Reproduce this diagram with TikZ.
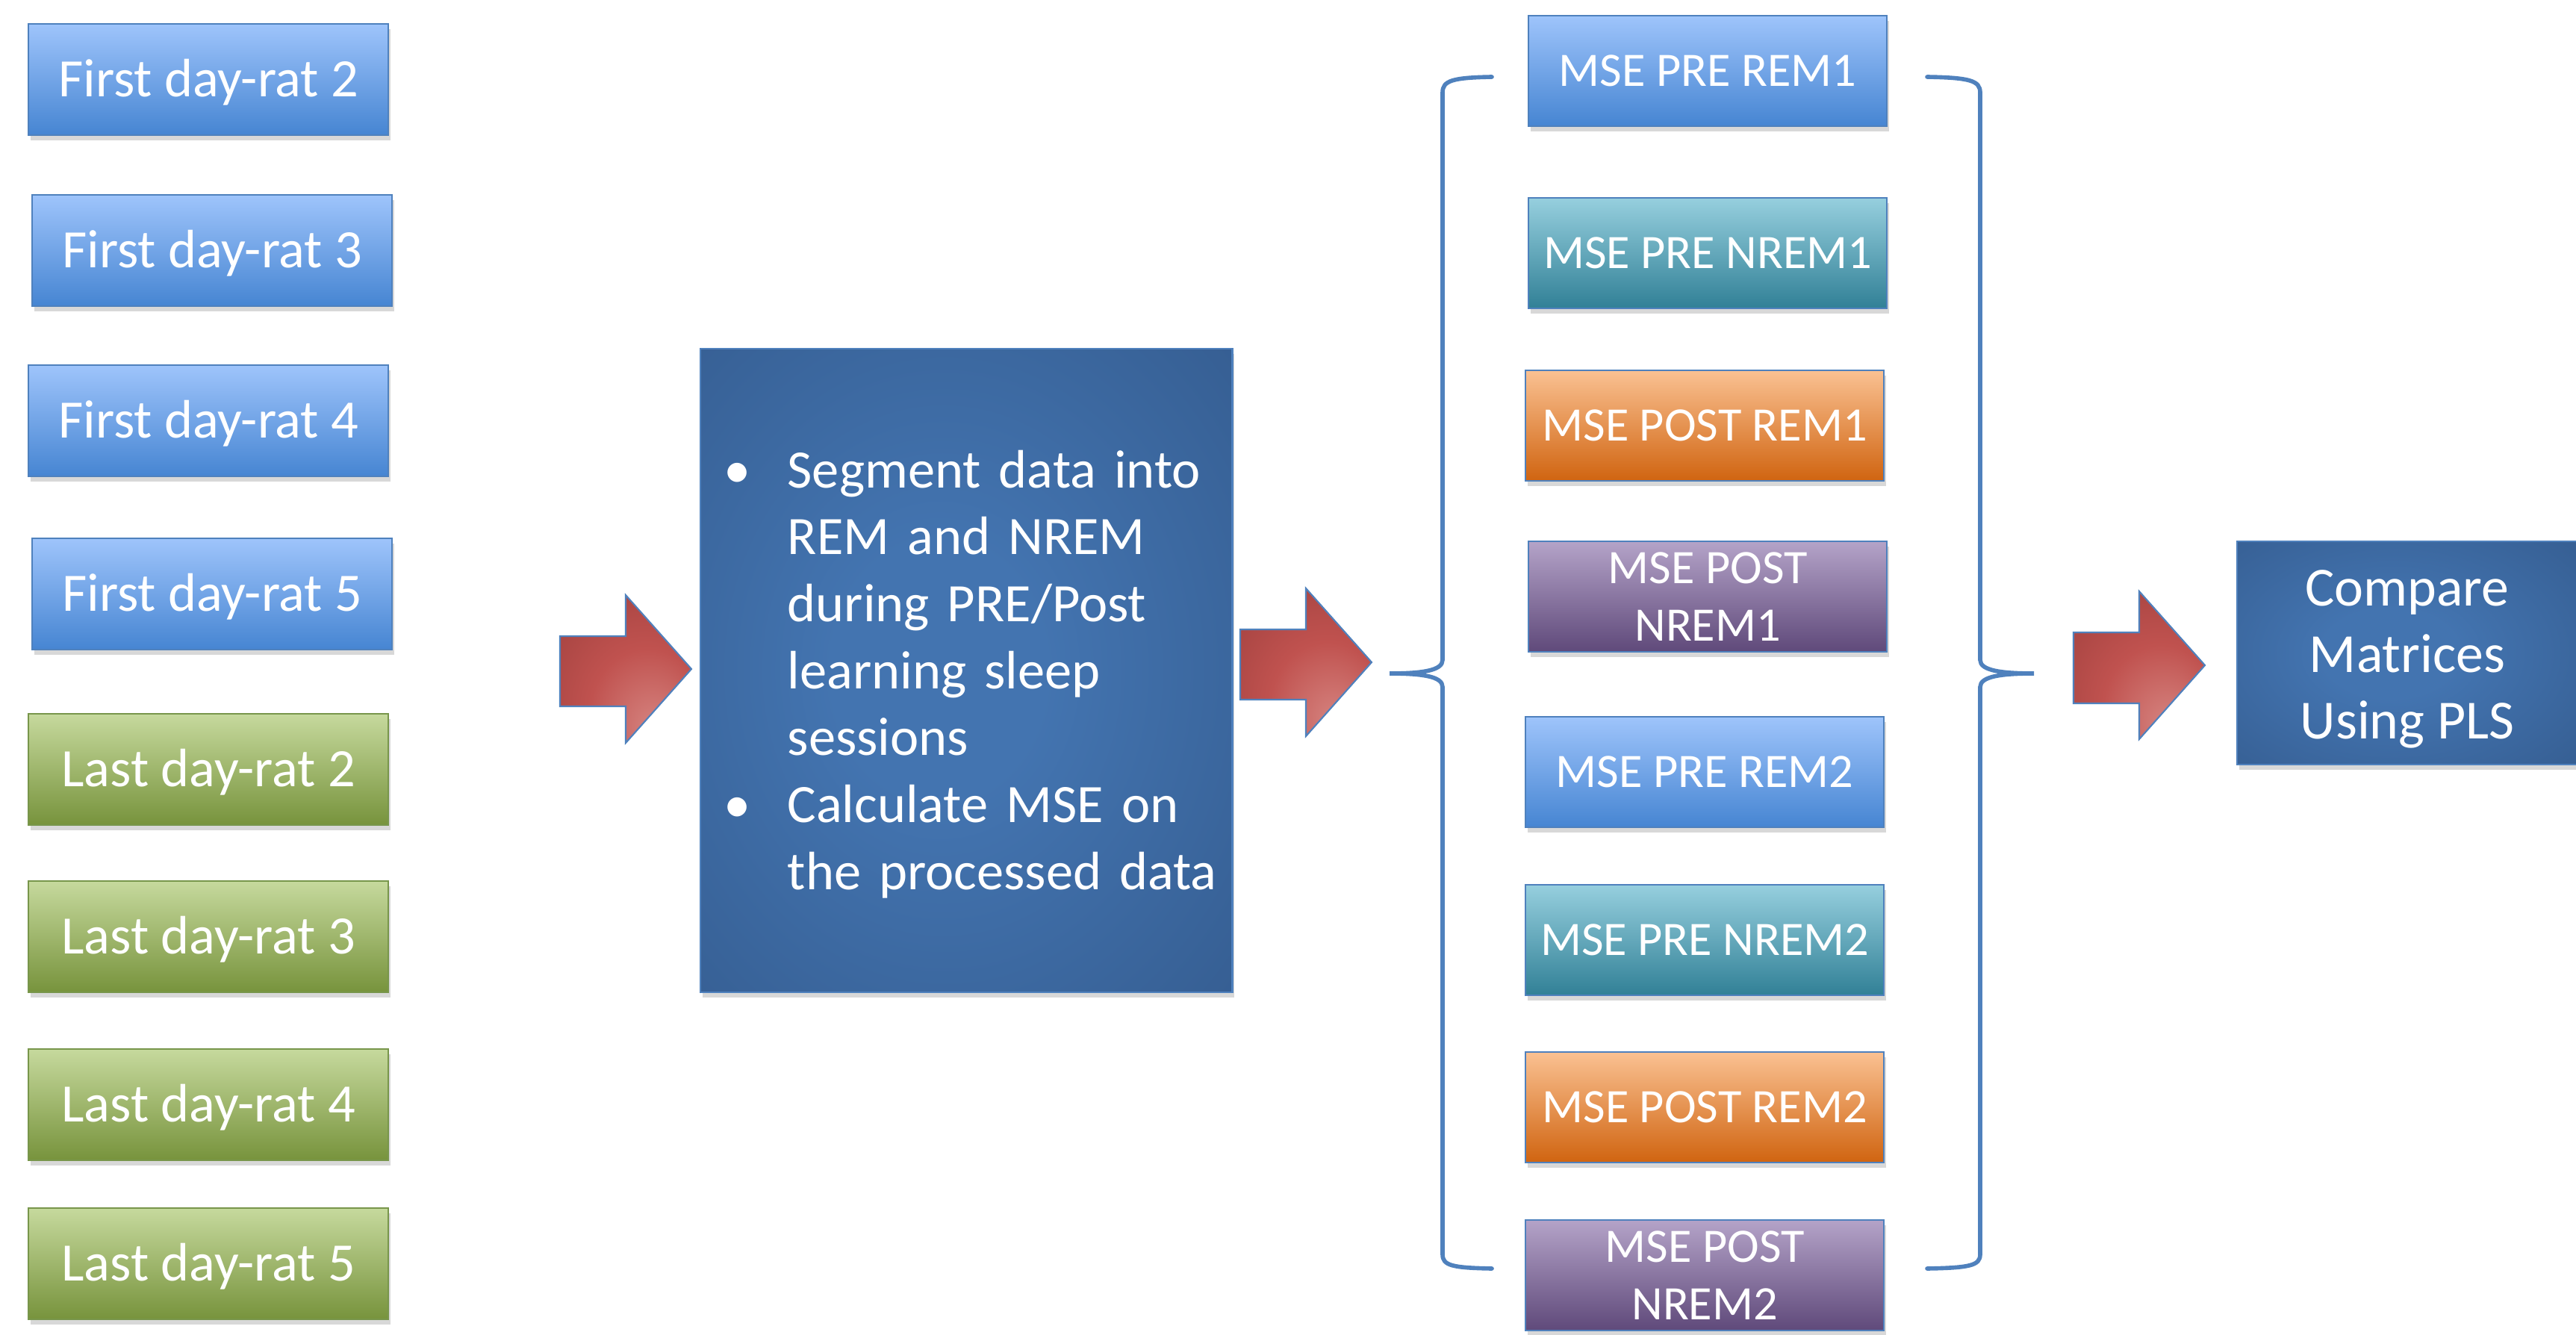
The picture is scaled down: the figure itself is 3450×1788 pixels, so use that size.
\documentclass[tikz,border=0pt]{standalone}
\usepackage{fontspec}
\setmainfont{Carlito}
\usetikzlibrary{shadings,shadows}
\definecolor{bluetop}{RGB}{158,196,251}
\definecolor{bluebot}{RGB}{70,133,210}
\definecolor{blueedge}{RGB}{79,129,189}
\definecolor{greentop}{RGB}{198,217,157}
\definecolor{greenbot}{RGB}{119,147,60}
\definecolor{greenedge}{RGB}{120,150,75}
\definecolor{tealtop}{RGB}{150,207,222}
\definecolor{tealbot}{RGB}{49,128,150}
\definecolor{orangetop}{RGB}{250,193,146}
\definecolor{orangebot}{RGB}{208,100,16}
\definecolor{purpletop}{RGB}{180,163,200}
\definecolor{purplebot}{RGB}{95,73,122}
\definecolor{cboxin}{RGB}{67,116,176}
\definecolor{cboxout}{RGB}{50,88,138}
\definecolor{arrowlight}{RGB}{215,135,131}
\definecolor{arrowmid}{RGB}{192,82,79}
\definecolor{arrowdark}{RGB}{152,60,58}
\definecolor{bracecol}{RGB}{79,129,189}
\pgfdeclareradialshading{arrowshade}{\pgfpoint{12bp}{-22bp}}{color(0bp)=(arrowlight); color(22bp)=(arrowmid); color(50bp)=(arrowdark); color(70bp)=(arrowdark)}
\pgfdeclareradialshading{cboxshade}{\pgfpoint{-3bp}{0bp}}{color(0bp)=(cboxin); color(10bp)=(cboxin); color(45bp)=(cboxout); color(75bp)=(cboxout)}
\tikzset{
  common/.style={rectangle, anchor=north west, inner sep=0pt, text=white, line width=0.6pt,
    drop shadow={shadow xshift=0.8pt, shadow yshift=-2pt, opacity=0.3}},
  leftsize/.style={minimum width=4.82cm, minimum height=1.49cm, text depth=0.05cm, font=\fontsize{20.6}{24.7}\selectfont},
  rightsize/.style={minimum width=4.80cm, minimum height=1.48cm, align=center, font=\fontsize{18.3}{21.9}\selectfont},
  bluebox/.style={common, top color=bluetop, bottom color=bluebot, draw=blueedge},
  greenbox/.style={common, top color=greentop, bottom color=greenbot, draw=greenedge},
  tealbox/.style={common, top color=tealtop, bottom color=tealbot, draw=blueedge},
  orangebox/.style={common, top color=orangetop, bottom color=orangebot, draw=blueedge},
  purplebox/.style={common, top color=purpletop, bottom color=purplebot, draw=blueedge},
  darkbox/.style={common, shading=cboxshade, draw=blueedge},
  boxtext/.style={inner sep=0pt, text=white},
  redarrow/.style={shading=arrowshade, draw=blueedge, line width=0.6pt, line join=miter},
  brace/.style={draw=bracecol, line width=1.6pt, line cap=round}
}
\begin{document}
\begin{tikzpicture}[x=0.01cm, y=-0.01cm]
\useasboundingbox (0,0) rectangle (3450,1788);
\fill[white] (0,0) rectangle (3450,1788);
% left column
\node[bluebox, leftsize] (f2) at (37,31) {First day-rat 2};
\node[bluebox, leftsize] (f3) at (42,260) {First day-rat 3};
\node[bluebox, leftsize] (f4) at (37,488) {First day-rat 4};
\node[bluebox, leftsize] (f5) at (42,720) {First day-rat 5};
\node[greenbox, leftsize] (l2) at (37,955) {Last day-rat 2};
\node[greenbox, leftsize] (l3) at (37,1179) {Last day-rat 3};
\node[greenbox, leftsize] (l4) at (37,1404) {Last day-rat 4};
\node[greenbox, leftsize] (l5) at (37,1617) {Last day-rat 5};
% arrow 1
\path[redarrow] (750,852) -- (838,852) -- (838,797) -- (926,896) -- (838,995) -- (838,946) -- (750,946) -- cycle;
% center box
\node[darkbox, minimum width=7.12cm, minimum height=8.61cm] (proc) at (937,466) {};
\node[boxtext, anchor=west, text width=6.75cm, align=left,
  font=\fontsize{20.6}{25.5}\selectfont] (proctext) at (969,903)
  {\makebox[0.85cm][l]{\textbullet}Segment data into\\
   \hspace*{0.85cm}REM and NREM\\
   \hspace*{0.85cm}during PRE/Post\\
   \hspace*{0.85cm}learning sleep\\
   \hspace*{0.85cm}sessions\\
   \makebox[0.85cm][l]{\textbullet}Calculate MSE on\\
   \hspace*{0.85cm}the processed data};
% arrow 2
\path[redarrow] (1661,843) -- (1749,843) -- (1749,788) -- (1837,887) -- (1749,986) -- (1749,937) -- (1661,937) -- cycle;
% left brace
\coordinate (lbtop) at (1998,103);
\coordinate (lbbot) at (1998,1699);
\coordinate (lbtip) at (1861,902);
\draw[brace] (lbtop) .. controls (1945,104) and (1932,108) .. (1932,124)
  -- (1932,884) .. controls (1932,898) and (1905,902) .. (lbtip)
  .. controls (1905,902) and (1932,906) .. (1932,920)
  -- (1932,1680) .. controls (1932,1695) and (1945,1698) .. (lbbot);
% right column
\node[bluebox, rightsize] (m1) at (2046,20) {MSE PRE REM1};
\node[tealbox, rightsize] (m2) at (2046,264) {MSE PRE NREM1};
\node[orangebox, rightsize] (m3) at (2042,495) {MSE POST REM1};
\node[purplebox, rightsize] (m4) at (2046,724) {MSE POST\\NREM1};
\node[bluebox, rightsize] (m5) at (2042,959) {MSE PRE REM2};
\node[tealbox, rightsize] (m6) at (2042,1184) {MSE PRE NREM2};
\node[orangebox, rightsize] (m7) at (2042,1408) {MSE POST REM2};
\node[purplebox, rightsize] (m8) at (2042,1633) {MSE POST\\NREM2};
% right brace
\coordinate (rbtop) at (2581,103);
\coordinate (rbbot) at (2581,1699);
\coordinate (rbtip) at (2724,902);
\draw[brace] (rbtop) .. controls (2638,104) and (2652,108) .. (2652,124)
  -- (2652,884) .. controls (2652,898) and (2680,902) .. (rbtip)
  .. controls (2680,902) and (2652,906) .. (2652,920)
  -- (2652,1680) .. controls (2652,1695) and (2638,1698) .. (rbbot);
% arrow 3
\path[redarrow] (2777,847) -- (2865,847) -- (2865,792) -- (2953,891) -- (2865,990) -- (2865,942) -- (2777,942) -- cycle;
% compare box
\node[darkbox, minimum width=4.57cm, minimum height=2.99cm] (cmp) at (2995,724) {};
\node[boxtext, align=center, font=\fontsize{21}{25.4}\selectfont] (cmptext) at (3224,883)
  {Compare\\Matrices\\Using PLS};
\end{tikzpicture}
\end{document}
